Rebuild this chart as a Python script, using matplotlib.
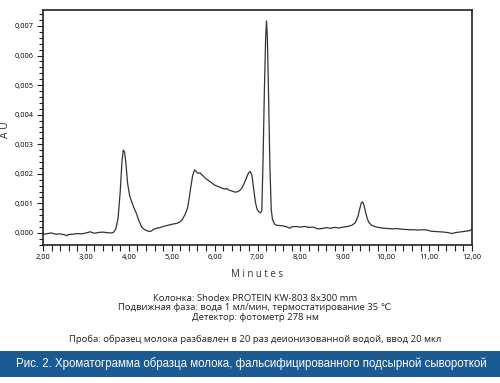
#!/usr/bin/env python3
"""Хроматограмма образца молока (рис. 2) -> out.png"""
import matplotlib.pyplot as plt
from matplotlib.patches import Rectangle
from matplotlib.ticker import MultipleLocator

# время удерживания, мин
TIME = [2.00, 2.10, 2.20, 2.30, 2.40, 2.50, 2.55, 2.60, 2.70, 2.80, 2.90,
        3.00, 3.10, 3.20, 3.30, 3.40, 3.50, 3.60, 3.65, 3.70, 3.75, 3.80,
        3.84, 3.87, 3.90, 3.93, 3.97, 4.02, 4.07, 4.12, 4.18, 4.24, 4.30,
        4.36, 4.42, 4.48, 4.53, 4.58, 4.65, 4.72, 4.80, 4.88, 4.95, 5.02,
        5.10, 5.18, 5.25, 5.32, 5.37, 5.41, 5.45, 5.49, 5.53, 5.57, 5.61,
        5.66, 5.72, 5.80, 5.90, 6.00, 6.10, 6.20, 6.25, 6.28, 6.32, 6.40,
        6.48, 6.55, 6.62, 6.68, 6.74, 6.79, 6.83, 6.87, 6.91, 6.95, 6.99,
        7.03, 7.07, 7.10, 7.13, 7.16, 7.19, 7.21, 7.23, 7.26, 7.29, 7.32,
        7.35, 7.40, 7.45, 7.52, 7.60, 7.70, 7.75, 7.80, 7.90, 8.00, 8.10,
        8.20, 8.30, 8.40, 8.50, 8.60, 8.70, 8.80, 8.90, 9.00, 9.10, 9.20,
        9.28, 9.34, 9.38, 9.42, 9.45, 9.48, 9.52, 9.56, 9.60, 9.66, 9.75,
        9.85, 9.95, 10.05, 10.15, 10.25, 10.35, 10.45, 10.55, 10.65, 10.75,
        10.85, 10.95, 11.05, 11.15, 11.25, 11.35, 11.45, 11.53, 11.60, 11.70,
        11.80, 11.90, 11.95, 12.00]

# оптическая плотность, единицы 1e-4 AU
SIGNAL_E4 = [-0.5, -0.2, 0.0, -0.4, -0.3, -0.6, -0.9, -0.5, -0.4, -0.2, -0.3,
             0.0, 0.4, -0.1, 0.2, 0.3, 0.1, 0.0, 0.3, 1.5, 5.0, 14.0,
             24.0, 28.0, 27.5, 24.0, 17.0, 12.5, 10.5, 8.5, 6.5, 4.0, 2.0,
             1.2, 0.8, 0.5, 0.7, 1.3, 1.6, 1.8, 2.2, 2.5, 2.8, 3.0,
             3.2, 3.6, 4.6, 6.5, 8.5, 12.0, 16.0, 19.5, 21.3, 20.8, 20.2,
             20.3, 19.5, 18.3, 17.3, 16.2, 15.6, 15.0, 14.8, 15.1, 14.6, 14.2,
             13.8, 14.0, 14.8, 16.5, 18.6, 20.3, 20.8, 19.5, 15.0, 10.5, 8.0,
             7.2, 6.8, 7.5, 25.0, 48.0, 66.0, 71.7, 66.0, 45.0, 22.0, 8.0,
             4.5, 3.0, 2.6, 2.5, 2.4, 2.0, 1.6, 2.1, 2.2, 2.0, 2.2,
             1.9, 2.0, 1.4, 1.5, 1.8, 1.6, 1.9, 1.7, 2.0, 2.2, 2.6,
             3.5, 5.5, 8.0, 10.2, 10.5, 9.5, 7.0, 4.8, 3.5, 2.6, 2.1,
             1.8, 1.6, 1.5, 1.4, 1.5, 1.3, 1.2, 1.1, 1.1, 1.0,
             1.1, 1.0, 0.6, 0.5, 0.4, 0.3, 0.1, -0.2, 0.1, 0.3,
             0.5, 0.7, 0.8, 1.3]

X_TICKS = [2, 3, 4, 5, 6, 7, 8, 9, 10, 11, 12]
X_LABELS = ["2,00", "3,00", "4,00", "5,00", "6,00", "7,00", "8,00", "9,00",
            "10,00", "11,00", "12,00"]
Y_TICKS = [0.000, 0.001, 0.002, 0.003, 0.004, 0.005, 0.006, 0.007]
Y_LABELS = ["0,000", "0,001", "0,002", "0,003", "0,004", "0,005", "0,006",
            "0,007"]

CAPTION = ("Колонка: Shodex PROTEIN KW-803 8x300 mm\n"
           "Подвижная фаза: вода 1 мл/мин, термостатирование 35 \u2103\n"
           "Детектор: фотометр 278 нм")
SAMPLE = "Проба: образец молока разбавлен в 20 раз деионизованной водой, ввод 20 мкл"
TITLE = "Рис. 2. Хроматограмма образца молока, фальсифицированного подсырной сывороткой"

plt.rcParams["font.family"] = ["Open Sans", "DejaVu Sans"]

fig = plt.figure(figsize=(5.0, 3.83), dpi=100)
ax = fig.add_axes([0.086, 0.360, 0.858, 0.614])

signal = [v * 1e-4 for v in SIGNAL_E4]
ax.plot(TIME, signal, color="#333333", linewidth=0.9)

ax.set_xlim(2, 12)
ax.set_ylim(-0.00041, 0.00754)
ax.set_xticks(X_TICKS)
ax.set_xticklabels(X_LABELS)
ax.set_yticks(Y_TICKS)
ax.set_yticklabels(Y_LABELS)
ax.xaxis.set_minor_locator(MultipleLocator(0.2))
ax.yaxis.set_minor_locator(MultipleLocator(0.0002))
ax.tick_params(which="both", direction="out", length=4, width=0.8,
               labelsize=5.4, color="#222222", pad=2.5)
ax.tick_params(axis="y", which="minor", length=3.2)
for sp in ax.spines.values():
    sp.set_linewidth(1.2)
    sp.set_color("#222222")

ax.set_xlabel("M i n u t e s", fontsize=7, labelpad=6, color="#333333")
ax.set_ylabel("A U", fontsize=7.5, color="#333333")
ax.yaxis.set_label_coords(-0.075, 0.49)

fig.text(0.51, 1 - 308 / 383, CAPTION, ha="center", va="center", fontsize=6.8,
         linespacing=1.12, color="#222222")
fig.text(0.51, 1 - 339 / 383, SAMPLE, ha="center", va="center", fontsize=6.8,
         color="#222222")

fig.patches.append(Rectangle((0, 6 / 383), 1, 26 / 383, transform=fig.transFigure,
                             facecolor="#1b5b93", edgecolor="none"))
fig.text(0.503, 19 / 383, TITLE, ha="center", va="center", fontsize=8.3,
         color="white", family=["Liberation Sans", "DejaVu Sans"])

fig.savefig("out.png", dpi=100)
